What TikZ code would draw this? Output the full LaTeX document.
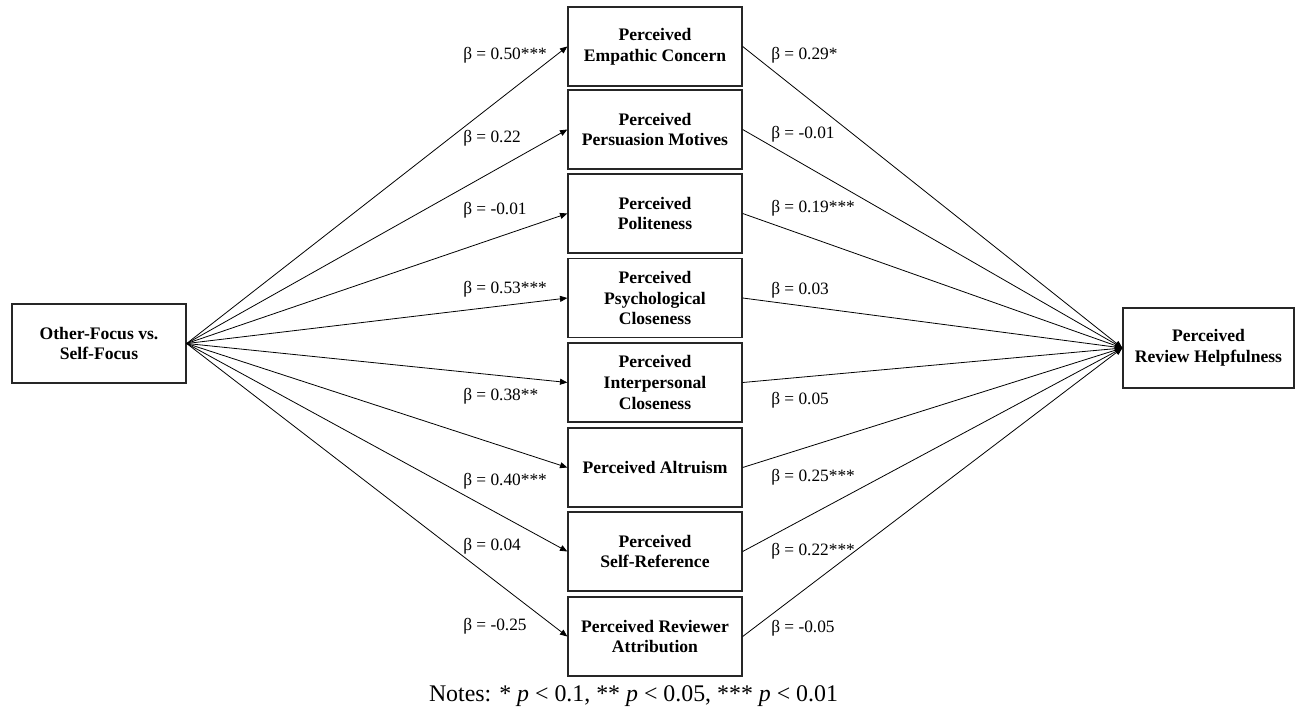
\documentclass[tikz,border=0pt]{standalone}
\usepackage{fontspec}
\setmainfont{Liberation Serif}
\usetikzlibrary{arrows.meta}
\begin{document}
\begin{tikzpicture}[x=0.75pt,y=-0.75pt,
  box/.style={draw=black!85,line width=1pt,fill=white,minimum width=130.5pt,minimum height=59.25pt,inner sep=0pt,align=center,font=\fontsize{13.2}{15.5}\selectfont\bfseries},
  lab/.style={anchor=west,inner sep=0pt,font=\fontsize{13}{15}\selectfont},
  arr/.style={line width=0.6pt,-{Triangle[length=5.5pt,width=4.5pt]}}]
\useasboundingbox (0,0) rectangle (1296,709);
\node[box] (L) at (99,343.5) {Other-Focus vs.\\Self-Focus};
\node[box,minimum width=128.25pt,minimum height=60pt] (R) at (1208.5,348) {Perceived\\Review Helpfulness};
\node[box] (m1) at (655,46.5) {Perceived\\Empathic Concern};
\node[box] (m2) at (655,129.5) {Perceived\\Persuasion Motives};
\node[box] (m3) at (655,213.5) {Perceived\\Politeness};
\node[box] (m4) at (655,298) {Perceived\\Psychological\\Closeness};
\node[box] (m5) at (655,382.5) {Perceived\\Interpersonal\\Closeness};
\node[box] (m6) at (655,467.5) {Perceived Altruism};
\node[box] (m7) at (655,551.5) {Perceived\\Self-Reference};
\node[box] (m8) at (655,636.5) {Perceived Reviewer\\Attribution};
\foreach \i in {1,...,8}{
  \draw[arr] (L.east) -- (m\i.west);
  \draw[arr] (m\i.east) -- (R.west);
}
% left labels
\node[lab] (a1) at (463,55) {β = 0.50***};
\node[lab] (a2) at (463,138) {β = 0.22};
\node[lab] (a3) at (463,210) {β = -0.01};
\node[lab] (a4) at (463,289) {β = 0.53***};
\node[lab] (a5) at (463,396) {β = 0.38**};
\node[lab] (a6) at (463,481) {β = 0.40***};
\node[lab] (a7) at (463,546) {β = 0.04};
\node[lab] (a8) at (463,626) {β = -0.25};
% right labels
\node[lab] (b1) at (771,55) {β = 0.29*};
\node[lab] (b2) at (771,134) {β = -0.01};
\node[lab] (b3) at (771,208) {β = 0.19***};
\node[lab] (b4) at (771,290) {β = 0.03};
\node[lab] (b5) at (771,400) {β = 0.05};
\node[lab] (b6) at (771,477) {β = 0.25***};
\node[lab] (b7) at (771,551) {β = 0.22***};
\node[lab] (b8) at (771,628) {β = -0.05};
\node[anchor=base,inner sep=0pt,font=\fontsize{17.9}{20}\selectfont] (notes) at (633.5,701.5) {Notes: * \textit{p} < 0.1, ** \textit{p} < 0.05, *** \textit{p} < 0.01};
\end{tikzpicture}
\end{document}
